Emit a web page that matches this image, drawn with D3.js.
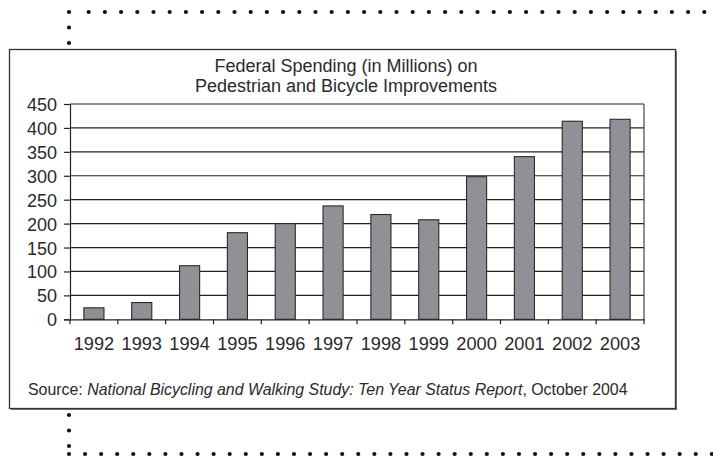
<!DOCTYPE html>
<html><head><meta charset="utf-8">
<script src="https://cdn.jsdelivr.net/npm/d3@7"></script>
<style>html,body{margin:0;padding:0;background:#fff;}svg{display:block;}</style>
</head><body>
<svg id="c" width="713" height="458"></svg>
<script>
const years = ["1992","1993","1994","1995","1996","1997","1998","1999","2000","2001","2002","2003"];
const spending = [24, 35, 112, 181, 200, 237, 219, 208, 298, 340, 414, 418];
const yTicks = [0, 50, 100, 150, 200, 250, 300, 350, 400, 450];
const titleLines = ["Federal Spending (in Millions) on", "Pedestrian and Bicycle Improvements"];

(function(){
const svg = d3.select("#c");
const font = "'Liberation Sans', Arial, sans-serif";

// dotted bracket
const dot = (x1,y1,x2,y2,gap) => svg.append("line")
  .attr("x1",x1).attr("y1",y1).attr("x2",x2).attr("y2",y2)
  .attr("stroke","#111").attr("stroke-width",4.2).attr("stroke-linecap","round")
  .attr("stroke-dasharray",`0,${gap}`);
dot(69,12,69,447,15.5);
dot(88.7,12,713,12,16.2);
dot(69,454,713,454,16.07);

// box with shadow
svg.append("rect").attr("x",11).attr("y",51).attr("width",666).attr("height",359).attr("fill","#777");
svg.append("rect").attr("x",9.5).attr("y",49.5).attr("width",666).attr("height",359)
  .attr("fill","#fff").attr("stroke","#333").attr("stroke-width",1.3);

// title
svg.append("g").selectAll("text").data(titleLines).join("text")
  .attr("x",346).attr("y",(d,i)=>71.5+i*20)
  .attr("text-anchor","middle").attr("font-family",font).attr("font-size",18)
  .attr("fill","#2a2a2a").text(d=>d);

const pl=70, pr=644, pt=104, pb=319.3;
const x = d3.scaleBand().domain(years).range([pl,pr]).padding(0);
const y = d3.scaleLinear().domain([0,450]).range([pb,pt]);

// gridlines
svg.append("g").selectAll("line").data(yTicks.filter(d=>d>0)).join("line")
  .attr("x1",pl).attr("x2",pr).attr("y1",d=>y(d)).attr("y2",d=>y(d))
  .attr("stroke","#222").attr("stroke-width",1.2);
// right border
svg.append("line").attr("x1",pr).attr("x2",pr).attr("y1",pt).attr("y2",pb)
  .attr("stroke","#444").attr("stroke-width",1.2);

// bars
const bw = x.bandwidth()*0.42;
svg.append("g").selectAll("rect").data(spending).join("rect")
  .attr("x",(d,i)=>x(years[i])+x.bandwidth()/2-bw/2)
  .attr("y",d=>y(d)).attr("width",bw).attr("height",d=>y(0)-y(d))
  .attr("fill","#909196").attr("stroke","#2a2a2a").attr("stroke-width",1.1);

// y axis
const ya = svg.append("g").attr("transform",`translate(${pl},0)`)
  .call(d3.axisLeft(y).tickValues(yTicks).tickSize(6).tickPadding(7));
ya.select(".domain").attr("stroke","#222").attr("stroke-width",1.2);
ya.selectAll(".tick line").attr("stroke","#222").attr("stroke-width",1.2);
ya.selectAll(".tick text").attr("font-family",font).attr("font-size",18).attr("fill","#2a2a2a")
  .attr("dy","0.36em");

// x axis
const xa = svg.append("g").attr("transform",`translate(0,${pb})`)
  .call(d3.axisBottom(x).tickSize(0).tickPadding(18));
xa.select(".domain").attr("stroke","#222").attr("stroke-width",1.2);
xa.selectAll(".tick text").attr("font-family",font).attr("font-size",18.2).attr("fill","#2a2a2a")
  .attr("dy","0.71em");
// boundary ticks
svg.append("g").selectAll("line").data(years.concat(["end"])).join("line")
  .attr("x1",(d,i)=>pl+i*x.step()).attr("x2",(d,i)=>pl+i*x.step())
  .attr("y1",pb).attr("y2",pb+5).attr("stroke","#222").attr("stroke-width",1.2);

// source
const src = svg.append("text").attr("x",28).attr("y",395).attr("font-family",font)
  .attr("font-size",15.9).attr("fill","#2a2a2a");
src.append("tspan").text("Source: ");
src.append("tspan").attr("font-style","italic").text("National Bicycling and Walking Study: Ten Year Status Report");
src.append("tspan").text(", October 2004");
})();
</script>
</body></html>
